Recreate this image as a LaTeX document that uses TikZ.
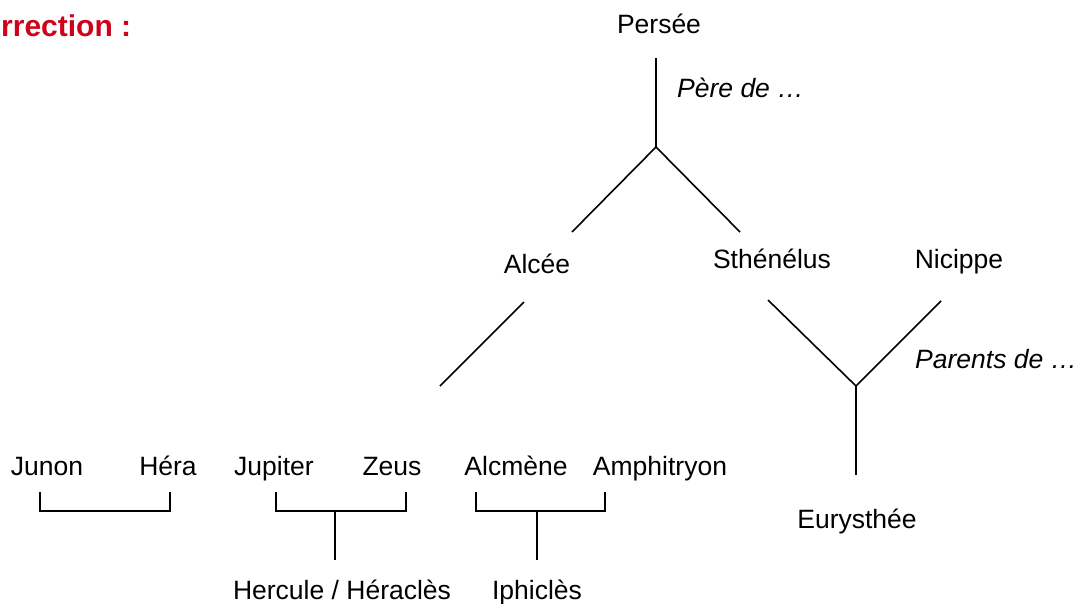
\documentclass[tikz,border=0pt]{standalone}
\usepackage{fontspec}
\setmainfont{Liberation Sans}
\usepackage{tikz}
\usetikzlibrary{positioning}
\definecolor{corrred}{RGB}{208,2,27}

\tikzset{
  person/.style={font=\fontsize{26.5}{30}\selectfont, inner sep=0pt, anchor=base},
  note/.style={font=\fontsize{26.5}{30}\selectfont\itshape, inner sep=0pt, anchor=base west},
  link/.style={line width=1.6pt, black},
}

\begin{document}
\begin{tikzpicture}[x=1pt, y=-1pt]
        \useasboundingbox (0,0) rectangle (1077,603);

        % Title
        \node[anchor=base west, inner sep=0pt, text=corrred,
              font=\fontsize{30}{34}\selectfont\bfseries] (title) at (1,36) {rrection :};

        % Persee and his sons
        \node[person] (persee) at (659,33) {Persée};
        \node[note] (pere) at (677,97) {Père de …};
        \coordinate (pstem) at (656,58);
        \coordinate (pfork) at (656,147);
        \coordinate (pleft) at (572,232);
        \coordinate (pright) at (740,232);
        \draw[link] (pstem) -- (pfork);
        \draw[link] (pleft) -- (pfork) -- (pright);

        \node[person] (alcee) at (537,273) {Alcée};
        \node[person] (sthenelus) at (772,268) {Sthénélus};
        \node[person] (nicippe) at (959,268) {Nicippe};

        % Alcee down to Amphitryon
        \coordinate (atop) at (524,302);
        \coordinate (abot) at (440,386);
        \draw[link] (atop) -- (abot);

        % Sthenelus + Nicippe
        \coordinate (sleft) at (768,300);
        \coordinate (sright) at (941,301);
        \coordinate (sfork) at (856,386);
        \coordinate (sstem) at (856,475);
        \draw[link] (sleft) -- (sfork) -- (sright);
        \draw[link] (sfork) -- (sstem);
        \node[note] (parents) at (915,368) {Parents de …};
        \node[person] (eurysthee) at (857,528) {Eurysthée};

        % Bottom row
        \node[person] (junon) at (47,475) {Junon};
        \node[person] (hera) at (168,475) {Héra};
        \node[person] (jupiter) at (274,475) {Jupiter};
        \node[person] (zeus) at (392,475) {Zeus};
        \node[person] (alcmene) at (516,475) {Alcmène};
        \node[person] (amphitryon) at (660,475) {Amphitryon};

        % Brackets
        \draw[link] (40,492) |- (170,511) -- (170,492);
        \draw[link] (276,492) |- (406,511) -- (406,492);
        \draw[link] (476,492) |- (605,511) -- (605,492);
        \coordinate (hstem) at (335,511);
        \coordinate (istem) at (537,511);
        \draw[link] (hstem) -- ++(0,49);
        \draw[link] (istem) -- ++(0,49);

        \node[person] (hercule) at (342,599) {Hercule / Héraclès};
        \node[person] (iphicles) at (537,599) {Iphiclès};
    \end{tikzpicture}
\end{document}
